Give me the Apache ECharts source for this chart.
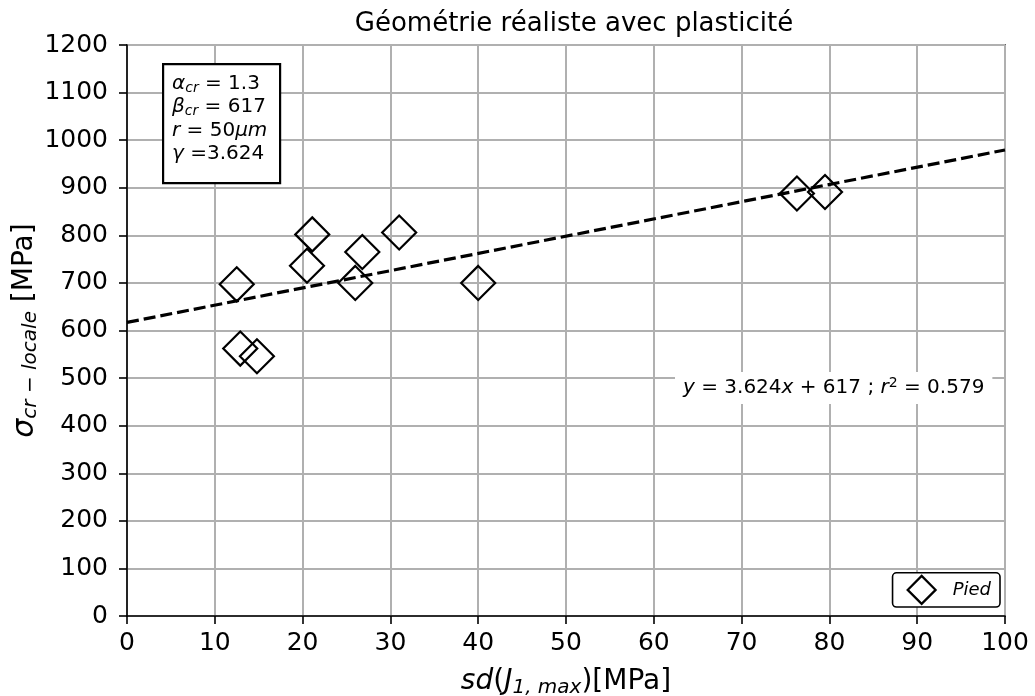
<!DOCTYPE html>
<html>
<head>
<meta charset="utf-8">
<script src="https://cdn.jsdelivr.net/npm/echarts@6/dist/echarts.min.js"></script>
<style>
html,body{margin:0;padding:0;background:#fff;}
#chart{width:1035px;height:696px;}
</style>
</head>
<body>
<div id="chart"></div>
<script>
const xValues = [12.5, 12.9, 14.8, 20.5, 21.1, 26.0, 26.8, 31.0, 40.0, 76.3, 79.5];
const yValues = [697, 562, 546, 736, 802, 700, 765, 806, 700, 888, 891];
const fitSlope = 3.624;
const fitIntercept = 617;
const fitX = [0, 100];
const seriesName = 'Pied';
const titleText = 'Géométrie réaliste avec plasticité';

const font = 'DejaVu Sans';
const chart = echarts.init(document.getElementById('chart'), null, {renderer: 'canvas'});

const scatterData = xValues.map((x, i) => [x, yValues[i]]);
const fitData = fitX.map(x => [x, fitSlope * x + fitIntercept]);

chart.setOption({
  animation: false,
  backgroundColor: '#fff',
  textStyle: {fontFamily: font, color: '#000'},
  title: {
    text: titleText, left: 569, top: 6, textAlign: 'center',
    textStyle: {fontFamily: font, fontSize: 26, fontWeight: 'normal', color: '#000'}
  },
  grid: {left: 127, right: 30, top: 45, bottom: 80, show: true, borderColor: '#000', borderWidth: 1.6,
         containLabel: false, outerBoundsMode: 'none'},
  xAxis: {
    type: 'value', min: 0, max: 100, interval: 10,
    axisLine: {show: true, onZero: false, lineStyle: {color: '#000', width: 1.6}},
    axisTick: {show: true, inside: false, length: 8, lineStyle: {color: '#000', width: 1.6}},
    axisLabel: {fontFamily: font, fontSize: 25, color: '#000', margin: 15},
    splitLine: {show: true, lineStyle: {color: '#b0b0b0', width: 2}},
    name: '{i|sd}{n|(}{i|J}{sub|1, max}{n|)[MPa]}',
    nameLocation: 'middle', nameGap: 50, nameMoveOverlap: false,
    nameTextStyle: {
      fontFamily: font, fontSize: 28, color: '#000',
      rich: {
        i: {fontFamily: font, fontStyle: 'italic', fontSize: 28, color: '#000'},
        n: {fontFamily: font, fontSize: 28, color: '#000'},
        sub: {fontFamily: font, fontStyle: 'italic', fontSize: 20, color: '#000', padding: [12, 0, 0, 0]}
      }
    }
  },
  yAxis: {
    type: 'value', min: 0, max: 1200, interval: 100,
    axisLine: {show: true, onZero: false, lineStyle: {color: '#000', width: 1.6}},
    axisTick: {show: true, inside: false, length: 8, lineStyle: {color: '#000', width: 1.6}},
    axisLabel: {fontFamily: font, fontSize: 25, color: '#000', margin: 19, formatter: v => String(v)},
    splitLine: {show: true, lineStyle: {color: '#b0b0b0', width: 2}},
    name: '{s|σ}{sub|cr − locale}{n| [MPa]}',
    nameLocation: 'middle', nameGap: 86, nameRotate: 90, nameMoveOverlap: false,
    nameTextStyle: {
      fontFamily: font, fontSize: 28, color: '#000',
      rich: {
        s: {fontFamily: font, fontStyle: 'italic', fontSize: 30, color: '#000'},
        n: {fontFamily: font, fontSize: 28, color: '#000'},
        sub: {fontFamily: font, fontStyle: 'italic', fontSize: 20, color: '#000', padding: [12, 0, 0, 0]}
      }
    }
  },
  legend: {
    data: [{name: seriesName, icon: 'diamond'}],
    right: 35, bottom: 89,
    orient: 'vertical',
    itemWidth: 28, itemHeight: 28, itemGap: 8,
    padding: [2, 9, 2, 14],
    backgroundColor: '#fff', borderColor: '#000', borderWidth: 1.6, borderRadius: 4,
    itemStyle: {color: 'rgba(0,0,0,0)', borderColor: '#000', borderWidth: 2.2},
    textStyle: {fontFamily: font, fontStyle: 'italic', fontSize: 18, color: '#000', padding: [0, 0, 0, 12]}
  },
  series: [
    {
      name: 'fit', type: 'line', data: fitData, symbol: 'none',
      lineStyle: {color: '#000', width: 3.2, type: [12, 5]},
      z: 3, silent: true
    },
    {
      name: seriesName, type: 'scatter', data: scatterData,
      symbol: 'diamond', symbolSize: 34,
      itemStyle: {color: 'rgba(0,0,0,0)', borderColor: '#000', borderWidth: 2.2, opacity: 1},
      z: 4
    }
  ],
  graphic: [
    {
      type: 'rect', left: 162, top: 63,
      shape: {width: 117, height: 119},
      style: {fill: '#fff', stroke: '#000', lineWidth: 2.2},
      z: 100
    },
    {
      type: 'text', left: 172, top: 72, z: 101,
      style: {
        text: '{i|α}{sub|cr}{n| = 1.3}\n{i|β}{sub|cr}{n| = 617}\n{i|r}{n| = 50}{i|μm}\n{i|γ}{n| =3.624}',
        fontFamily: font, fontSize: 20, fill: '#000', lineHeight: 23.5,
        rich: {
          i: {fontFamily: font, fontStyle: 'italic', fontSize: 20, lineHeight: 23.5},
          n: {fontFamily: font, fontSize: 20, lineHeight: 23.5},
          sub: {fontFamily: font, fontStyle: 'italic', fontSize: 14, lineHeight: 23.5, padding: [9, 0, 0, 0]}
        }
      }
    },
    {
      type: 'text', left: 675, top: 372, z: 101,
      style: {
        text: '{i|y}{n| = 3.624}{i|x}{n| + 617 ; }{i|r}{sup|2}{n| = 0.579}',
        fontFamily: font, fontSize: 20, fill: '#000',
        backgroundColor: '#fff', padding: [4, 8, 4, 8],
        rich: {
          i: {fontFamily: font, fontStyle: 'italic', fontSize: 20},
          n: {fontFamily: font, fontSize: 20},
          sup: {fontFamily: font, fontSize: 14, padding: [0, 0, 10, 0]}
        }
      }
    }
  ]
});
</script>
</body>
</html>
